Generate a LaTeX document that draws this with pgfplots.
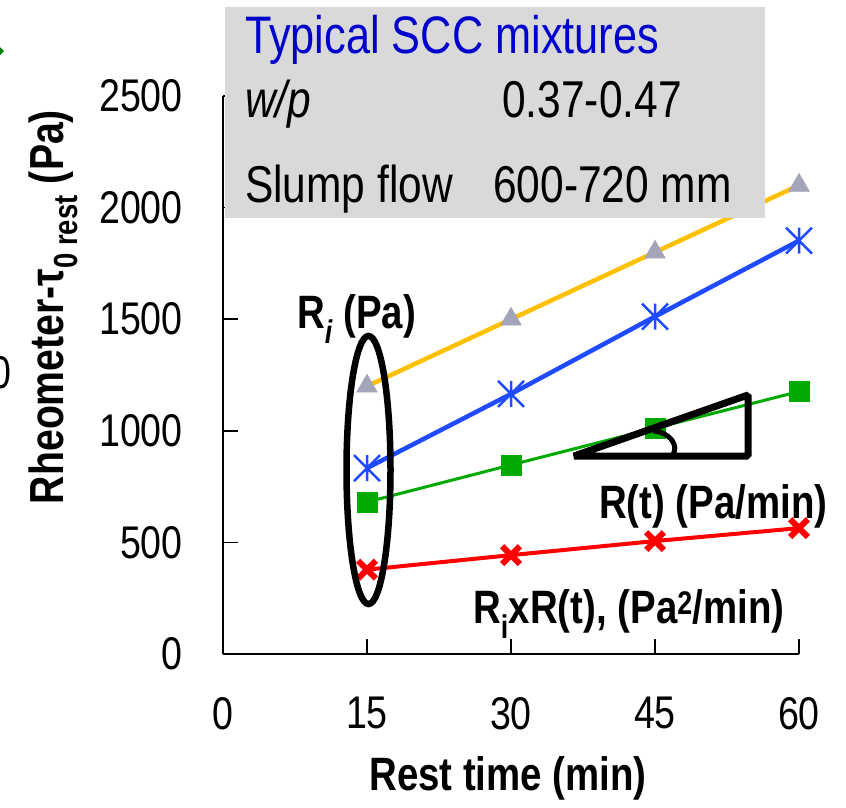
\documentclass[border=0pt]{standalone}
\usepackage{pgfplots}
\pgfplotsset{compat=1.18}
\usepackage{fontspec}
\setmainfont{Liberation Sans}[FakeStretch=0.82]
\definecolor{cyellow}{RGB}{255,192,0}
\definecolor{cgray}{RGB}{165,165,185}
\definecolor{cblue}{RGB}{30,75,255}
\definecolor{cgreen}{RGB}{0,170,0}
\definecolor{cred}{RGB}{255,0,0}
\definecolor{cbox}{RGB}{217,217,217}
\definecolor{ctext}{RGB}{0,0,205}
\pgfdeclareplotmark{xast}{%
  \pgfpathmoveto{\pgfqpoint{0pt}{\pgfplotmarksize}}%
  \pgfpathlineto{\pgfqpoint{0pt}{-\pgfplotmarksize}}%
  \pgfpathmoveto{\pgfqpoint{-\pgfplotmarksize}{\pgfplotmarksize}}%
  \pgfpathlineto{\pgfqpoint{\pgfplotmarksize}{-\pgfplotmarksize}}%
  \pgfpathmoveto{\pgfqpoint{-\pgfplotmarksize}{-\pgfplotmarksize}}%
  \pgfpathlineto{\pgfqpoint{\pgfplotmarksize}{\pgfplotmarksize}}%
  \pgfusepathqstroke}
\begin{document}
\begin{tikzpicture}
\begin{axis}[
  at={(223bp,-654bp)}, anchor=south west,
  scale only axis, width=576bp, height=558bp,
  xmin=0, xmax=60, ymin=0, ymax=2500,
  axis lines=left, axis line style={line width=1.5bp,-},
  xtick={0,15,30,45,60}, ytick={0,500,1000,1500,2000,2500},
  tick align=inside, major tick length=15bp,
  tick style={line width=1.5bp,black},
  /pgf/number format/assume math mode=true,
  /pgf/number format/1000 sep={},
  scaled ticks=false,
  ticklabel style={font=\fontsize{46}{50}\selectfont, inner sep=0pt},
  xticklabel style={anchor=north, yshift=-43bp},
  yticklabel style={anchor=east, xshift=-40bp},
  clip=false,
]
\addplot[line width=4.5bp, color=cyellow, mark=triangle*, mark size=12bp,
  mark options={solid, fill=cgray, draw=cgray, line width=0.5bp}]
  coordinates {(15,1200) (30,1500) (45,1800) (60,2100)};
\addplot[line width=4.5bp, color=cblue, mark=xast, mark size=13bp,
  mark options={solid, line width=2.5bp, draw=cblue}]
  coordinates {(15,833) (30,1165) (45,1512) (60,1852)};
\addplot[line width=3bp, color=cgreen, mark=square*, mark size=10bp,
  mark options={solid, fill=cgreen, draw=cgreen, line width=0.5bp}]
  coordinates {(15,681) (30,847) (45,1012) (60,1176)};
\addplot[line width=4bp, color=cred, mark=x, mark size=12.5bp,
  mark options={solid, line width=6bp, draw=cred}]
  coordinates {(15,378) (30,443) (45,506) (60,564)};
\end{axis}
% annotation box
\fill[cbox] (225bp,-7bp) rectangle (765bp,-218bp);
\node[anchor=base west, inner sep=0pt, text=ctext, font=\fontsize{53}{56}\selectfont] at (245bp,-53bp) {Typical SCC mixtures};
\node[anchor=base west, inner sep=0pt, font=\fontsize{52}{56}\selectfont\itshape] at (245bp,-117bp) {w/p};
\node[anchor=base west, inner sep=0pt, font=\fontsize{52}{56}\selectfont] at (502bp,-117bp) {0.37-0.47};
\node[anchor=base west, inner sep=0pt, font=\fontsize{52}{56}\selectfont] at (245bp,-202bp) {Slump flow};
\node[anchor=base west, inner sep=0pt, font=\fontsize{52}{56}\selectfont] at (493bp,-202bp) {600-720 mm};
% ellipse
\draw[line width=6.5bp] (368.5bp,-470bp) ellipse [x radius=22bp, y radius=134bp];
% slope triangle
\draw[line width=7bp, line join=bevel] (574bp,-456bp) -- (748bp,-395bp) -- (748bp,-456bp) -- cycle;
\draw[line width=5bp] (653bp,-431bp) .. controls (670bp,-432bp) and (680bp,-446bp) .. (672bp,-456bp);
% labels
\node[anchor=base west, inner sep=0pt, font=\fontsize{47}{50}\selectfont\bfseries] at (297bp,-328bp) {R\textsubscript{\itshape i} (Pa)};
\node[anchor=base west, inner sep=0pt, font=\fontsize{47}{50}\selectfont\bfseries] at (599bp,-518bp) {R(t) (Pa/min)};
\node[anchor=base west, inner sep=0pt, font=\fontsize{47}{50}\selectfont\bfseries] at (473bp,-623bp) {R\textsubscript{i}xR(t), (Pa\textsuperscript{2}/min)};
% axis labels
\node[anchor=base, inner sep=0pt, font=\fontsize{47}{50}\selectfont\bfseries] at (508bp,-790bp) {Rest time (min)};
\node[anchor=base, inner sep=0pt, rotate=90, font=\fontsize{48}{50}\selectfont\bfseries] at (63bp,-307bp) {Rheometer-τ\textsubscript{0 rest} (Pa)};
% cropped fragments at the left edge
\node[inner sep=0pt, font=\fontsize{46}{50}\selectfont] at (1bp,-373bp) {0};
\fill[green!50!black] (-4bp,-51bp) -- (0bp,-47bp) -- (4bp,-51bp) -- (0bp,-55bp) -- cycle;
\pgfresetboundingbox
\path (0bp,0bp) rectangle (846bp,-808bp);
\end{tikzpicture}
\end{document}
